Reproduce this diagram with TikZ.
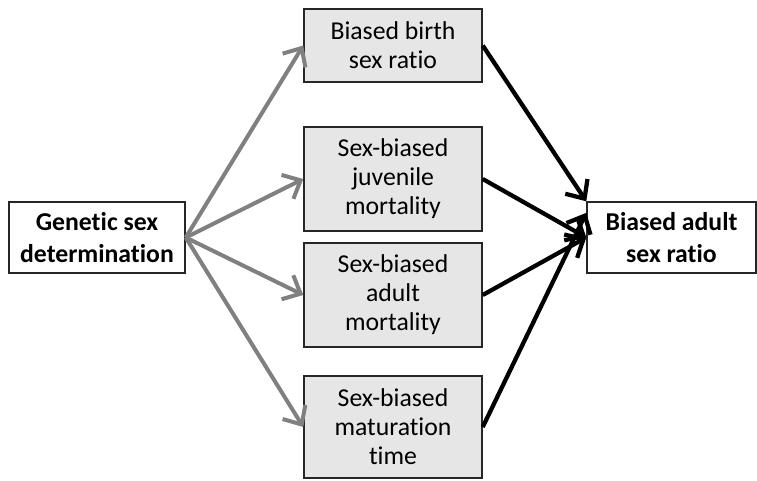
\documentclass[tikz,border=0pt]{standalone}
\usepackage{fontspec}
\setmainfont{Carlito}[RawFeature=-liga]
\usetikzlibrary{arrows.meta}
\definecolor{boxfill}{RGB}{231,230,230}
\definecolor{linkgray}{RGB}{128,128,128}
\tikzset{
  outerbox/.style={draw=black!85, line width=1.1pt, fill=white, align=center, inner sep=0pt,
    font=\bfseries\fontsize{19.3}{24}\selectfont},
  midbox/.style={draw=black!85, line width=1.1pt, fill=boxfill, align=center, inner sep=0pt,
    minimum width=133.5pt, font=\fontsize{19.3}{21.8}\selectfont},
  graylink/.style={draw=linkgray, line width=3pt, -{Straight Barb[length=11pt,width=20pt]}},
  blacklink/.style={draw=black, line width=3.2pt, -{Straight Barb[length=11pt,width=20pt]}}
}
\begin{document}
\begin{tikzpicture}[x=0.75pt,y=0.75pt,yscale=-1,xscale=1]
%set diagram left start at 0, and has height of 480
\fill[white] (0,0) rectangle (757,480);
\useasboundingbox (0,0) rectangle (757,480);

% Outer Nodes
\node [outerbox, minimum width=132pt, minimum height=53.25pt] (gsd) at (97,237.5) {Genetic sex\\determination};
\node [outerbox, minimum width=126.75pt, minimum height=53.25pt] (asr) at (671.5,237.5) {Biased adult\\sex ratio};
% Middle Nodes
\node [midbox, minimum height=54.75pt] (birth) at (393,45.5) {Biased birth\\sex ratio};
\node [midbox, minimum height=78pt] (juv) at (393,179) {Sex-biased\\juvenile\\mortality};
\node [midbox, minimum height=78pt] (adult) at (393,295) {Sex-biased\\adult\\mortality};
\node [midbox, minimum height=76.5pt] (mat) at (393,427) {Sex-biased\\maturation\\time};
\coordinate (asrlow) at ([yshift=-18.5pt]asr.west);

%Straight Lines (gray)
\foreach \m in {birth,juv,adult,mat}
  \draw [graylink] (gsd.east) -- (\m.west);

%Straight Lines (black)
\draw [blacklink] (birth.east) -- (asr.north west);
\draw [blacklink] (juv.east) -- (asr.west);
\draw [blacklink] (adult.east) -- (asr.west);
\draw [blacklink] (mat.east) -- (asrlow);

\end{tikzpicture}
\end{document}
